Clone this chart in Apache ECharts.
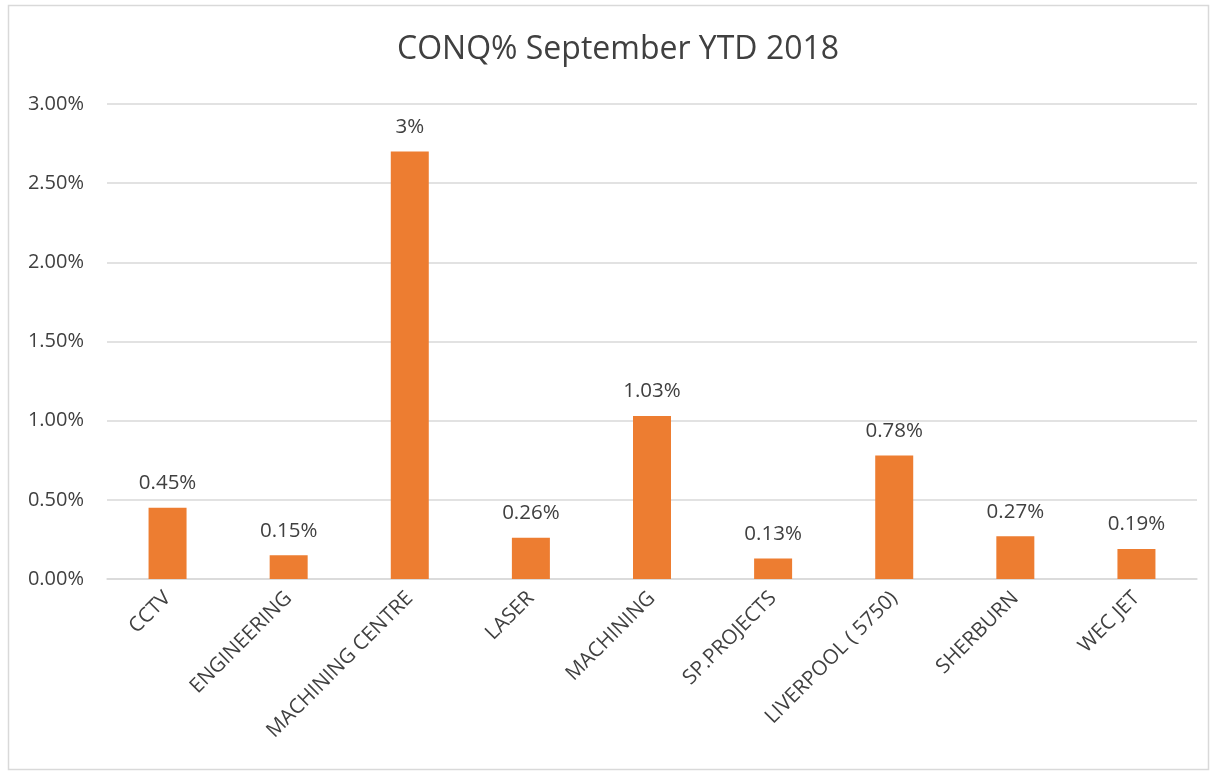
<!DOCTYPE html>
<html>
<head>
<meta charset="utf-8">
<script src="https://cdn.jsdelivr.net/npm/echarts@6/dist/echarts.min.js"></script>
<style>
html,body{margin:0;padding:0;background:#fff;}
#chart{width:1210px;height:771px;}
</style>
</head>
<body>
<div id="chart"></div>
<script>
const titleText = 'CONQ% September YTD 2018';
const categories = ['CCTV','ENGINEERING','MACHINING CENTRE','LASER','MACHINING','SP.PROJECTS','LIVERPOOL ( 5750)','SHERBURN','WEC JET'];
const values = [0.45, 0.15, 2.70, 0.26, 1.03, 0.13, 0.78, 0.27, 0.19];
const labelTexts = ['0.45%','0.15%','3%','0.26%','1.03%','0.13%','0.78%','0.27%','0.19%'];
const yTicks = { min: 0, max: 3, interval: 0.5 };

const FONT = '"Open Sans", "Noto Sans", sans-serif';
const chart = echarts.init(document.getElementById('chart'));
chart.setOption({
  backgroundColor: '#ffffff',
  animation: false,
  graphic: [{
    type: 'rect', silent: true, z: -10,
    shape: { x: 8.5, y: 5.5, width: 1200, height: 764 },
    style: { fill: 'none', stroke: '#d9d9d9', lineWidth: 1.5 }
  }],
  title: {
    text: titleText, left: 392, top: 29,
    textStyle: { fontFamily: FONT, fontSize: 32, fontWeight: 'normal', color: '#404040' }
  },
  grid: { left: 107, right: 13, top: 104, bottom: 192, containLabel: false },
  xAxis: {
    type: 'category', data: categories,
    axisLine: { lineStyle: { color: '#d9d9d9', width: 1.5 } },
    axisTick: { show: false },
    axisLabel: { rotate: 45, interval: 0, margin: 16, fontFamily: FONT, fontSize: 20.5, color: '#404040' }
  },
  yAxis: {
    type: 'value', min: yTicks.min, max: yTicks.max, interval: yTicks.interval,
    axisLine: { show: false }, axisTick: { show: false },
    splitLine: { lineStyle: { color: '#d9d9d9', width: 1.5 } },
    axisLabel: { margin: 23, fontFamily: FONT, fontSize: 20, color: '#404040',
      formatter: v => v.toFixed(2) + '%' }
  },
  series: [{
    type: 'bar', data: values, barWidth: 38,
    itemStyle: { color: '#ED7D31' },
    label: { show: true, position: 'top', distance: 14, fontFamily: FONT, fontSize: 20.5, color: '#404040',
      formatter: p => labelTexts[p.dataIndex] }
  }]
});
</script>
</body>
</html>
